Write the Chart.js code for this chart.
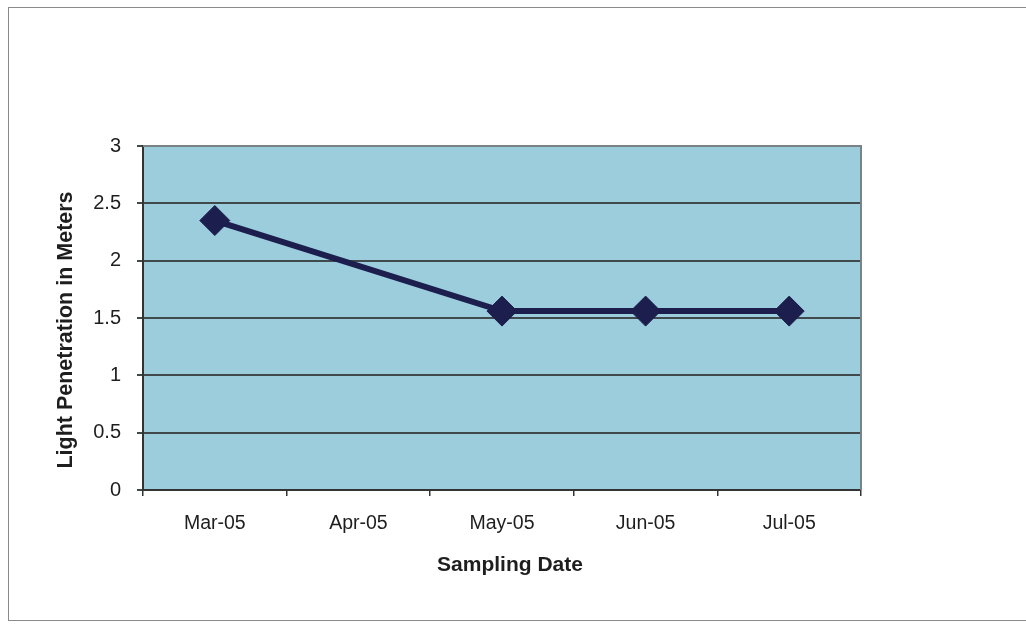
<!DOCTYPE html>
<html>
<head>
<meta charset="utf-8">
<script src="https://cdn.jsdelivr.net/npm/chart.js@4/dist/chart.umd.min.js"></script>
<style>
  html, body { margin: 0; padding: 0; background: #ffffff; overflow: hidden; }
  #wrap { position: relative; width: 1026px; height: 628px; }
  #frame {
    position: absolute; left: 8px; top: 7px; width: 1030px; height: 614px;
    border: 1.5px solid #8a8a8a; border-right: none; box-sizing: border-box;
    pointer-events: none;
  }
  canvas { position: absolute; left: 0; top: 0; }
</style>
</head>
<body>
<div id="wrap">
  <canvas id="chart" width="1026" height="628"></canvas>
  <div id="frame"></div>
</div>
<script>
// Monthly sampling dates (April was not sampled)
const categories = ['Mar-05', 'Apr-05', 'May-05', 'Jun-05', 'Jul-05'];
// Light penetration depth in meters
const depthMeters = [2.35, null, 1.56, 1.56, 1.56];
// Y axis range, step and tick labels
const yMin = 0;
const yMax = 3;
const yStep = 0.5;
const yTickLabels = ['0', '0.5', '1', '1.5', '2', '2.5', '3'];

const xTitle = 'Sampling Date';
const yTitle = 'Light Penetration in Meters';

const FONT = '"Liberation Sans", Arial, Helvetica, sans-serif';
const NAVY = '#1c1e4d';

// Plot area fill and frame
const plotFrame = {
  id: 'plotFrame',
  beforeDraw(chart) {
    const { ctx, chartArea: a } = chart;
    ctx.save();
    ctx.fillStyle = '#9ccddc';
    ctx.fillRect(a.left, a.top, a.right - a.left, a.bottom - a.top);
    ctx.restore();
  },
  beforeDatasetsDraw(chart) {
    const { ctx, chartArea: a } = chart;
    ctx.save();
    ctx.strokeStyle = '#7a8285';
    ctx.lineWidth = 2;
    ctx.beginPath();
    ctx.moveTo(a.left, a.top);
    ctx.lineTo(a.right, a.top);
    ctx.lineTo(a.right, a.bottom);
    ctx.stroke();
    ctx.restore();
  }
};

// Axis titles placed relative to the plot area
const axisTitles = {
  id: 'axisTitles',
  afterDraw(chart) {
    const { ctx, chartArea: a } = chart;
    ctx.save();
    ctx.fillStyle = '#1e1e1e';
    ctx.textAlign = 'center';
    ctx.textBaseline = 'alphabetic';
    ctx.font = 'bold 21px ' + FONT;
    ctx.fillText(xTitle, (a.left + a.right) / 2 + 8, a.bottom + 81);
    ctx.translate(a.left - 71, (a.top + a.bottom) / 2 + 12);
    ctx.rotate(-Math.PI / 2);
    ctx.font = 'bold 21.5px ' + FONT;
    ctx.fillText(yTitle, 0, 0);
    ctx.restore();
  }
};

new Chart(document.getElementById('chart'), {
  type: 'line',
  data: {
    labels: categories,
    datasets: [{
      data: depthMeters,
      borderColor: NAVY,
      borderWidth: 6,
      backgroundColor: NAVY,
      pointStyle: 'rectRot',
      pointRadius: 15,
      pointBackgroundColor: NAVY,
      pointBorderColor: NAVY,
      pointBorderWidth: 1,
      tension: 0,
      spanGaps: true,
      fill: false
    }]
  },
  options: {
    responsive: false,
    animation: false,
    events: [],
    layout: { padding: { left: 0, top: 146, right: 165, bottom: 0 } },
    plugins: {
      legend: { display: false },
      title: { display: false },
      tooltip: { enabled: false }
    },
    scales: {
      x: {
        type: 'category',
        offset: true,
        afterFit(scale) { scale.height = 138; },
        grid: {
          offset: true,
          drawOnChartArea: false,
          drawTicks: true,
          tickLength: 6,
          color: '#333333',
          lineWidth: 1.5
        },
        border: { display: true, color: '#333333', width: 2 },
        ticks: {
          color: '#1e1e1e',
          font: { family: FONT, size: 19.5 },
          padding: 16,
          maxRotation: 0,
          autoSkip: false
        }
      },
      y: {
        min: yMin,
        max: yMax,
        afterFit(scale) { scale.width = 143; },
        grid: {
          color: '#404a4d',
          lineWidth: 2,
          drawTicks: true,
          tickLength: 6
        },
        border: { display: true, color: '#333333', width: 2 },
        ticks: {
          stepSize: yStep,
          color: '#1e1e1e',
          font: { family: FONT, size: 20 },
          padding: 16,
          callback: (value, index) => yTickLabels[index]
        }
      }
    }
  },
  plugins: [plotFrame, axisTitles]
});
</script>
</body>
</html>
